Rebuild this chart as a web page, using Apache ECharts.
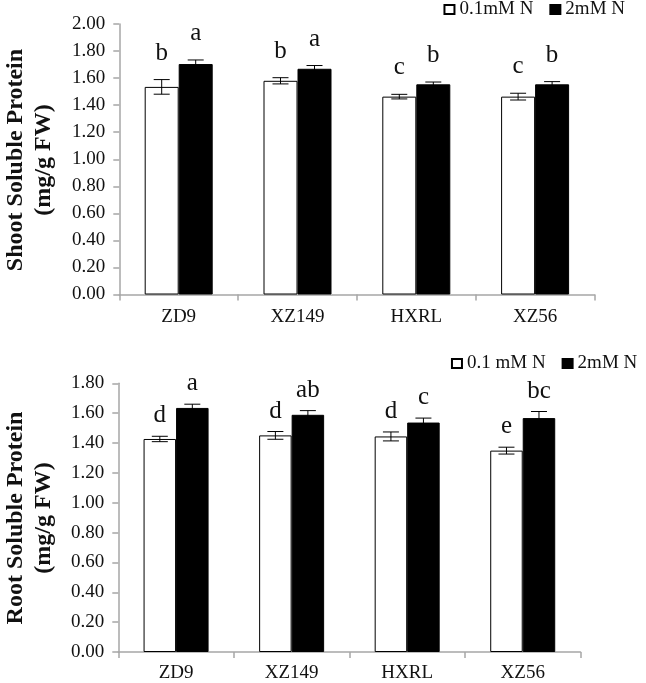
<!DOCTYPE html>
<html><head><meta charset="utf-8">
<script src="https://cdn.jsdelivr.net/npm/echarts@6/dist/echarts.min.js"></script>
<style>html,body{margin:0;padding:0;background:#fff}#c{width:646px;height:683px}</style>
</head><body><div id="c"></div>
<script>
const categories = ['ZD9', 'XZ149', 'HXRL', 'XZ56'];

const shootLowName = '0.1mM N';
const shootHighName = '2mM N';
const shootLow = [1.535, 1.58, 1.463, 1.463];
const shootLowErr = [0.054, 0.023, 0.017, 0.025];
const shootHigh = [1.704, 1.669, 1.554, 1.554];
const shootHighErr = [0.03, 0.024, 0.017, 0.02];
const shootLowLetters = ['b', 'b', 'c', 'c'];
const shootHighLetters = ['a', 'a', 'b', 'b'];

const rootLowName = '0.1 mM N';
const rootHighName = '2mM N ';
const rootLow = [1.427, 1.451, 1.444, 1.349];
const rootLowErr = [0.018, 0.026, 0.03, 0.023];
const rootHigh = [1.635, 1.589, 1.537, 1.567];
const rootHighErr = [0.025, 0.028, 0.03, 0.044];
const rootLowLetters = ['d', 'd', 'd', 'e'];
const rootHighLetters = ['a', 'ab', 'c', 'bc'];

const shootAxisMax = 2.0, rootAxisMax = 1.8, tickStep = 0.2;
const shootTitle = 'Shoot Soluble Protein\n(mg/g FW)';
const rootTitle = 'Root Soluble Protein\n(mg/g FW)';

const FONT = 'Liberation Serif, Times New Roman, serif';
const chart = echarts.init(document.getElementById('c'));

function errSeries(name, axisIdx, vals, errs, letters, offset, gap) {
  return {
    type: 'custom', name: name + '_err', xAxisIndex: axisIdx, yAxisIndex: axisIdx, z: 5,
    data: vals.map((v, i) => [i, v, errs[i]]),
    renderItem: function (params, api) {
      const i = api.value(0), v = api.value(1), e = api.value(2);
      const top = api.coord([i, v + e]);
      const bot = api.coord([i, v - e]);
      const x = top[0] + offset;
      const cap = 8;
      return {
        type: 'group',
        children: [
          { type: 'line', shape: { x1: x, y1: top[1], x2: x, y2: bot[1] }, style: { stroke: '#000', lineWidth: 1 } },
          { type: 'line', shape: { x1: x - cap, y1: top[1], x2: x + cap, y2: top[1] }, style: { stroke: '#000', lineWidth: 1 } },
          { type: 'line', shape: { x1: x - cap, y1: bot[1], x2: x + cap, y2: bot[1] }, style: { stroke: '#000', lineWidth: 1 } },
          { type: 'text', style: { text: letters[params.dataIndex], x: x, y: top[1] - gap, align: 'center', verticalAlign: 'middle', font: '25px ' + FONT, fill: '#111' } }
        ]
      };
    }
  };
}

const axisGray = '#a6a6a6';
function xAxis(idx, margin) {
  return {
    type: 'category', gridIndex: idx, data: categories,
    axisLine: { lineStyle: { color: axisGray, width: 1.5 } },
    axisTick: { show: true, alignWithLabel: false, length: 6, lineStyle: { color: axisGray, width: 1.5 } },
    axisLabel: { color: '#111', fontFamily: FONT, fontSize: 19, margin: margin }
  };
}
function yAxis(idx, max) {
  return {
    type: 'value', gridIndex: idx, min: 0, max: max, interval: tickStep,
    splitLine: { show: false },
    axisLine: { show: true, lineStyle: { color: axisGray, width: 1.5 } },
    axisTick: { show: true, length: 6, lineStyle: { color: axisGray, width: 1.5 } },
    axisLabel: { color: '#111', fontFamily: FONT, fontSize: 19, margin: 14, formatter: v => v.toFixed(2) }
  };
}
function titleText(text, x, y) {
  return {
    type: 'text', x: x, y: y, rotation: Math.PI / 2,
    style: { text: text, align: 'center', verticalAlign: 'middle', font: 'bold 24px ' + FONT, lineHeight: 28, fill: '#111' }
  };
}

const option = {
  backgroundColor: '#fff',
  animation: false,
  grid: [
    { left: 119.3, right: 51.5, top: 24, bottom: 388.5 },
    { left: 118.3, right: 65.5, top: 383.3, bottom: 29.7 }
  ],
  legend: [
    { data: [shootLowName, shootHighName], right: 21, top: 0, padding: 0, itemWidth: 10, itemHeight: 9, itemGap: 16, icon: 'rect',
      textStyle: { fontFamily: FONT, fontSize: 19, lineHeight: 19, color: '#111' } },
    { data: [rootLowName, rootHighName], right: 4, top: 354, padding: 0, itemWidth: 10, itemHeight: 9, itemGap: 16, icon: 'rect',
      textStyle: { fontFamily: FONT, fontSize: 19, lineHeight: 19, color: '#111' } }
  ],
  graphic: [titleText(shootTitle, 30, 160), titleText(rootTitle, 30, 518)],
  xAxis: [xAxis(0, 13), xAxis(1, 12)],
  yAxis: [yAxis(0, shootAxisMax), yAxis(1, rootAxisMax)],
  series: [
    { type: 'bar', name: shootLowName, xAxisIndex: 0, yAxisIndex: 0, data: shootLow, barWidth: 34, barGap: 0,
      itemStyle: { color: '#fff', borderColor: '#000', borderWidth: 1 } },
    { type: 'bar', name: shootHighName, xAxisIndex: 0, yAxisIndex: 0, data: shootHigh, barWidth: 34, barGap: 0,
      itemStyle: { color: '#000', borderColor: '#000', borderWidth: 1 } },
    { type: 'bar', name: rootLowName, xAxisIndex: 1, yAxisIndex: 1, data: rootLow, barWidth: 32.5, barGap: 0,
      itemStyle: { color: '#fff', borderColor: '#000', borderWidth: 1 } },
    { type: 'bar', name: rootHighName, xAxisIndex: 1, yAxisIndex: 1, data: rootHigh, barWidth: 32.5, barGap: 0,
      itemStyle: { color: '#000', borderColor: '#000', borderWidth: 1 } },
    errSeries('sl', 0, shootLow, shootLowErr, shootLowLetters, -17, 26.5),
    errSeries('sh', 0, shootHigh, shootHighErr, shootHighLetters, 17, 26.5),
    errSeries('rl', 1, rootLow, rootLowErr, rootLowLetters, -16.25, 20.5),
    errSeries('rh', 1, rootHigh, rootHighErr, rootHighLetters, 16.25, 20.5)
  ]
};
chart.setOption(option);
</script></body></html>
